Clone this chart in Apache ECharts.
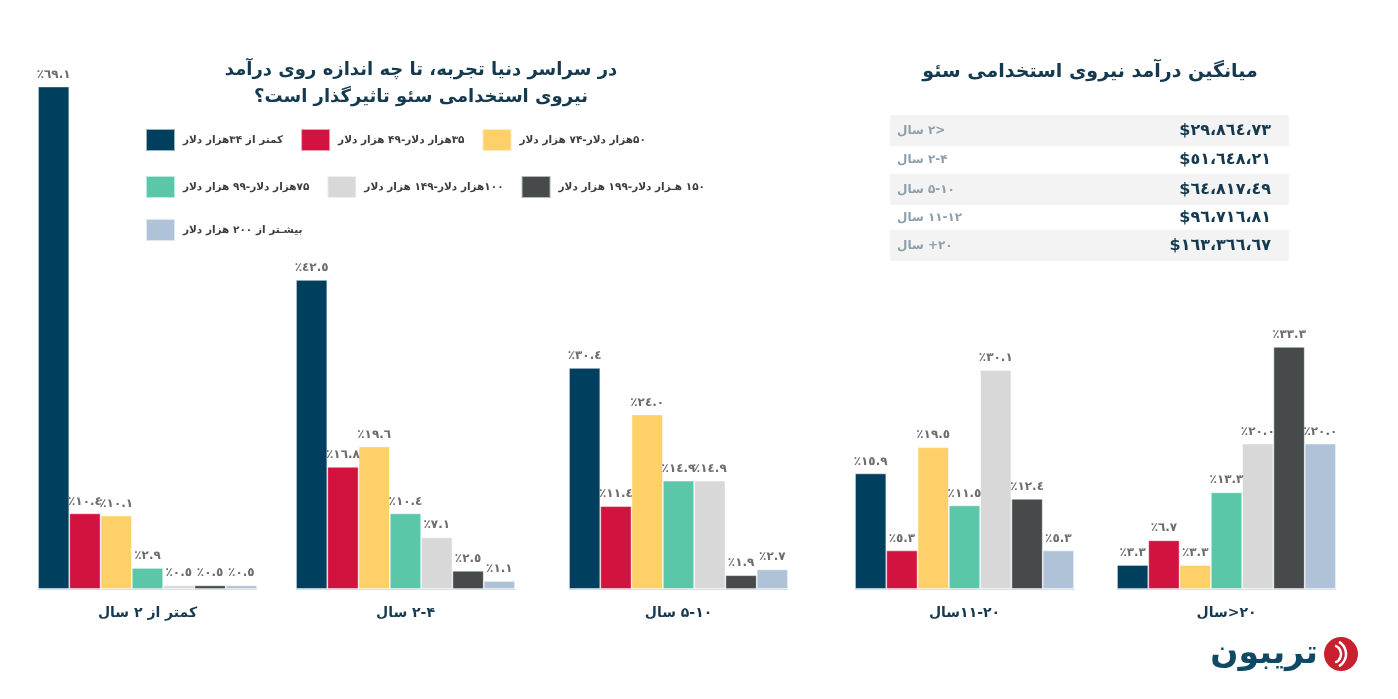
<!DOCTYPE html>
<html>
<head>
<meta charset="utf-8">
<script src="https://cdn.jsdelivr.net/npm/echarts@6/dist/echarts.min.js"></script>
<style>html,body{margin:0;padding:0;background:#fff}#c{width:1398px;height:699px}</style>
</head>
<body>
<div id="c"></div>
<script>
// ---- DATA ----
const groups = ['کمتر از ۲ سال', '۲-۴ سال', '۵-۱۰ سال', '۱۱-۲۰سال', '۲۰<سال'];
const brackets = [
  'کمتر از ۳۴هزار دلار',
  '۳۵هزار دلار-۴۹ هزار دلار',
  '۵۰هزار دلار-۷۴ هزار دلار',
  '۷۵هزار دلار-۹۹ هزار دلار',
  '۱۰۰هزار دلار-۱۴۹ هزار دلار',
  '۱۵۰ هـزار دلار-۱۹۹ هزار دلار',
  'بیشـتر از ۲۰۰ هزار دلار'
];
const under34k   = [69.1, 42.5, 30.4, 15.9, 3.3];
const k35to49    = [10.4, 16.8, 11.4, 5.3, 6.7];
const k50to74    = [10.1, 19.6, 24.0, 19.5, 3.3];
const k75to99    = [2.9, 10.4, 14.9, 11.5, 13.3];
const k100to149  = [0.5, 7.1, 14.9, 30.1, 20.0];
const k150to199  = [0.5, 2.5, 1.9, 12.4, 33.3];
const over200k   = [0.5, 1.1, 2.7, 5.3, 20.0];
const seriesValues = [under34k, k35to49, k50to74, k75to99, k100to149, k150to199, over200k];

const tableLabels = ['<۲ سال', '۲-۴ سال', '۵-۱۰ سال', '۱۱-۱۲ سال', '۲۰+ سال'];
const tableValues = ['$٢٩،٨٦٤،٧٣', '$٥١،٦٤٨،٢١', '$٦٤،٨١٧،٤٩', '$٩٦،٧١٦،٨١', '$١٦٣،٣٦٦،٦٧'];

const titleLeft = 'در سراسر دنیا تجربه، تا چه اندازه روی درآمد\nنیروی استخدامی سئو تاثیرگذار است؟';
const titleRight = 'میانگین درآمد نیروی استخدامی سئو';
const logoText = 'تریبون';

// ---- STYLE ----
const colors = ['#013f5e', '#d2123f', '#fdd069', '#5bc7a9', '#d8d8d8', '#474a4b', '#b0c2d8'];
const FONT = 'DejaVu Sans';
const NAVY = '#153a50';
const rtl = s => '\u202B' + s + '\u202C';
const arDigits = s => String(s).replace(/[0-9]/g, d => '٠١٢٣٤٥٦٧٨٩'[d]);

const gridLefts = [38, 296, 569, 855, 1117];
const gridWidth = 219;

const grids = [], xAxes = [], yAxes = [], series = [];
gridLefts.forEach((l, g) => {
  grids.push({left: l, width: gridWidth, top: 80, bottom: 110});
  xAxes.push({
    type: 'category', gridIndex: g, data: [groups[g]],
    axisTick: {show: false},
    axisLine: {lineStyle: {color: '#d5dde5', width: 1}},
    axisLabel: {margin: 17, fontSize: 14, fontWeight: 'bold', color: NAVY, fontFamily: FONT, formatter: rtl}
  });
  yAxes.push({type: 'value', gridIndex: g, min: 0, max: 70, show: false, splitLine: {show: false}});
  seriesValues.forEach((vals, b) => {
    series.push({
      type: 'bar', name: brackets[b], xAxisIndex: g, yAxisIndex: g,
      data: [vals[g]], barGap: '0%', barCategoryGap: '0%',
      itemStyle: {color: colors[b], borderColor: 'rgba(255,255,255,0.6)', borderWidth: 0.8},
      label: {
        show: true, position: 'top', distance: 6, fontSize: 12, fontWeight: 'bold',
        color: '#6d6d6d', fontFamily: FONT,
        formatter: p => '٪' + arDigits(p.value.toFixed(1))
      },
      emphasis: {disabled: true}, animation: false
    });
  });
});

const legendBase = {
  left: 145, padding: 0, itemWidth: 29, itemHeight: 22, itemGap: 17, icon: 'rect',
  selectedMode: false,
  textStyle: {fontSize: 10.5, fontWeight: 'bold', color: '#3d3d3d', fontFamily: FONT, padding: [0, 0, 0, 3]},
  formatter: rtl
};
const legends = [
  Object.assign({}, legendBase, {top: 128, data: brackets.slice(0, 3)}),
  Object.assign({}, legendBase, {top: 175, data: brackets.slice(3, 6)}),
  Object.assign({}, legendBase, {top: 218, data: brackets.slice(6)})
];

const graphic = [];
graphic.push({type: 'text', x: 421, y: 84, style: {
  text: titleLeft.split('\n').map(rtl).join('\n'), align: 'center', verticalAlign: 'middle',
  font: 'bold 18px "' + FONT + '"', fill: NAVY, lineHeight: 27}, z: 10});
graphic.push({type: 'text', x: 1090, y: 72, style: {
  text: rtl(titleRight), align: 'center', verticalAlign: 'middle',
  font: 'bold 19px "' + FONT + '"', fill: NAVY}, z: 10});
// table rows
const rowBands = [[115, 31, '#f3f3f3'], [146, 28, '#ffffff'], [174, 31, '#f3f3f3'], [205, 25, '#ffffff'], [230, 31, '#f3f3f3']];
rowBands.forEach((r, i) => {
  graphic.push({type: 'rect', shape: {x: 890, y: r[0], width: 399, height: r[1]}, style: {fill: r[2]}, z: 1});
  const cy = r[0] + r[1] / 2;
  graphic.push({type: 'text', x: 897, y: cy, style: {text: rtl(tableLabels[i]), align: 'left', verticalAlign: 'middle',
    font: 'bold 12px "' + FONT + '"', fill: '#8d9faa'}, z: 2});
  graphic.push({type: 'text', x: 1271, y: cy, style: {text: tableValues[i], align: 'right', verticalAlign: 'middle',
    font: 'bold 16px "' + FONT + '"', fill: NAVY}, z: 2});
});
// logo
graphic.push({type: 'circle', shape: {cx: 1341, cy: 654, r: 17}, style: {fill: '#c8202f'}, z: 5});
graphic.push({type: 'arc', shape: {cx: 1332, cy: 654, r: 9, startAngle: -Math.PI / 2.6, endAngle: Math.PI / 2.6}, style: {stroke: '#fff', lineWidth: 2.5, fill: null}, z: 6});
graphic.push({type: 'arc', shape: {cx: 1332, cy: 654, r: 14, startAngle: -Math.PI / 3, endAngle: Math.PI / 3}, style: {stroke: '#fff', lineWidth: 2.5, fill: null}, z: 6});
graphic.push({type: 'text', x: 1318, y: 654, style: {text: rtl(logoText), align: 'right', verticalAlign: 'middle',
  font: 'bold 33px "' + FONT + '"', fill: '#0f4963'}, z: 5});

const chart = echarts.init(document.getElementById('c'), null, {renderer: 'canvas'});
chart.setOption({
  backgroundColor: '#ffffff',
  animation: false,
  grid: grids, xAxis: xAxes, yAxis: yAxes,
  legend: legends,
  series: series,
  graphic: graphic
});
</script>
</body>
</html>
